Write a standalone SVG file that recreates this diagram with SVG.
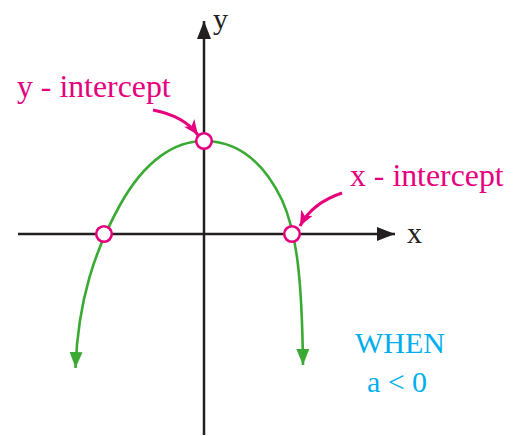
<svg xmlns="http://www.w3.org/2000/svg" width="515" height="437" viewBox="0 0 515 437">
<style>
.axis{stroke:#231F20;stroke-width:2.5;fill:none}
.curve{stroke:#3AAA35;stroke-width:2.6;fill:none}
.pt{stroke:#E6007E;stroke-width:2.6;fill:#fff}
.pointer{stroke:#E6007E;stroke-width:3;fill:none}
.lbl{font-family:"Liberation Serif","DejaVu Serif",serif}
.mag{fill:#E6007E;font-size:31.8px}
.cyan{fill:#00AEEF;font-size:30px}
.axl{fill:#231F20;font-size:30px}
</style>
<defs>
<marker id="ahBlack" markerUnits="userSpaceOnUse" markerWidth="20" markerHeight="16" refX="18" refY="8" orient="auto"><path d="M0,1 L18,8 L0,15 Z" fill="#231F20"/></marker>
<marker id="ahGreen" markerUnits="userSpaceOnUse" markerWidth="18" markerHeight="14" refX="16" refY="7" orient="auto"><path d="M0,0.5 L16,7 L0,13.5 Z" fill="#3AAA35"/></marker>
<marker id="ahMag" markerUnits="userSpaceOnUse" markerWidth="18" markerHeight="14" refX="15" refY="7" orient="auto"><path d="M0,0.5 L15,7 L0,13.5 L4,7 Z" fill="#E6007E"/></marker>
</defs>
<g id="axes">
<line class="axis" x1="204" y1="435" x2="204" y2="21" marker-end="url(#ahBlack)"/>
<line class="axis" x1="18" y1="234" x2="395" y2="234" marker-end="url(#ahBlack)"/>
<text class="lbl axl" x="213" y="29">y</text>
<text class="lbl axl" x="407" y="243">x</text>
</g>
<g id="parabola">
<path class="curve" d="M204,141 C175,141 145,160 120,205 C95,250 78,300 75.5,368" marker-end="url(#ahGreen)"/>
<path class="curve" d="M204,141 C240,141 265,165 282,200 C297,233 302,280 303,365" marker-end="url(#ahGreen)"/>
</g>
<g id="connectors">
<path class="pointer" d="M153,110 Q184,116 198,135" marker-end="url(#ahMag)"/>
<path class="pointer" d="M342,193 Q312,203 300,226" marker-end="url(#ahMag)"/>
</g>
<g id="y-intercept">
<circle class="pt" cx="204" cy="141" r="7.8"/>
<text class="lbl mag" x="17" y="97">y - intercept</text>
</g>
<g id="x-intercept-left">
<circle class="pt" cx="104" cy="234" r="7.8"/>
</g>
<g id="x-intercept-right">
<circle class="pt" cx="292" cy="234" r="7.8"/>
<text class="lbl mag" x="350" y="186">x - intercept</text>
</g>
<g id="condition">
<text class="lbl cyan" x="400" y="353" text-anchor="middle">WHEN</text>
<text class="lbl cyan" x="397" y="392" text-anchor="middle">a &lt; 0</text>
</g>
</svg>
